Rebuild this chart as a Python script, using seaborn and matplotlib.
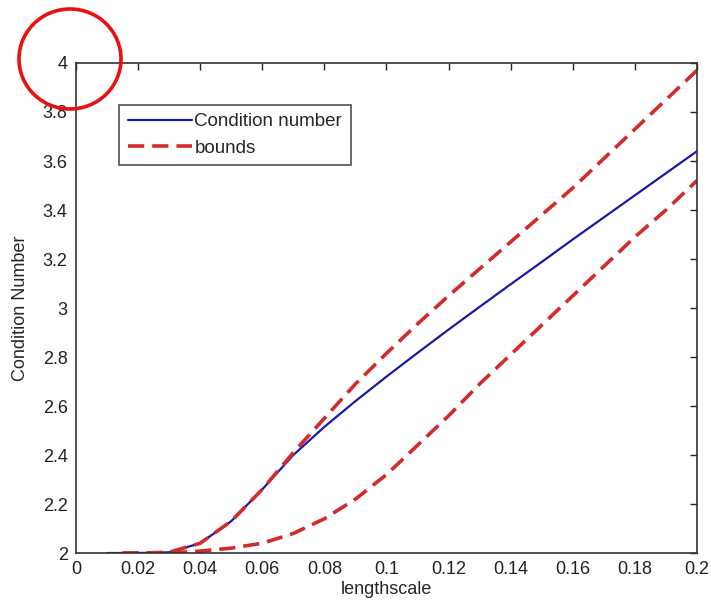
import matplotlib
matplotlib.use("Agg")
import matplotlib.pyplot as plt
from matplotlib.patches import Ellipse
import seaborn as sb
import pandas as pd

# values
x = [0.01, 0.02, 0.03, 0.04, 0.05, 0.06, 0.07, 0.08, 0.09, 0.10,
     0.11, 0.12, 0.13, 0.14, 0.15, 0.16, 0.17, 0.18, 0.19, 0.20]
cond = [2.0, 2.0, 2.003, 2.04, 2.13, 2.26, 2.40, 2.515, 2.62, 2.72,
        2.817, 2.912, 3.005, 3.097, 3.188, 3.28, 3.37, 3.46, 3.55, 3.64]
xb = [0.015, 0.02, 0.03, 0.04, 0.05, 0.06, 0.07, 0.08, 0.09, 0.10,
      0.11, 0.12, 0.13, 0.14, 0.15, 0.16, 0.17, 0.18, 0.19, 0.20]
upper = [2.0, 2.0, 2.003, 2.04, 2.13, 2.26, 2.41, 2.55, 2.69, 2.815,
         2.935, 3.05, 3.16, 3.27, 3.38, 3.49, 3.61, 3.73, 3.85, 3.97]
lower = [2.0, 2.0, 2.0, 2.008, 2.02, 2.04, 2.08, 2.14, 2.22, 2.32,
         2.44, 2.56, 2.69, 2.81, 2.93, 3.05, 3.17, 3.29, 3.40, 3.52]
xticks = [0, 0.02, 0.04, 0.06, 0.08, 0.1, 0.12, 0.14, 0.16, 0.18, 0.2]
xticklabels = ["0", "0.02", "0.04", "0.06", "0.08", "0.1", "0.12", "0.14", "0.16", "0.18", "0.2"]
yticks = [2, 2.2, 2.4, 2.6, 2.8, 3, 3.2, 3.4, 3.6, 3.8, 4]
yticklabels = ["2", "2.2", "2.4", "2.6", "2.8", "3", "3.2", "3.4", "3.6", "3.8", "4"]

sb.set_style("white")
plt.rcParams['font.family'] = ['Liberation Sans', 'DejaVu Sans']

df_c = pd.DataFrame({"x": x, "y": cond})
df_u = pd.DataFrame({"x": xb, "y": upper})
df_l = pd.DataFrame({"x": xb, "y": lower})

fig = plt.figure(figsize=(7.11, 6.04), dpi=100)
ax = fig.add_axes([0.1069, 0.0844, 0.8734, 0.8113])

red = "#d42a2a"
sb.lineplot(data=df_c, x="x", y="y", ax=ax, color="#1a1aa8", lw=1.6, label="Condition number")
sb.lineplot(data=df_u, x="x", y="y", ax=ax, color=red, lw=2.6, dashes=(4.5, 2.2), label="bounds")
sb.lineplot(data=df_l, x="x", y="y", ax=ax, color=red, lw=2.6, dashes=(4.5, 2.2))

ax.set_xlim(0, 0.2)
ax.set_ylim(2, 4)
ax.set_xticks(xticks)
ax.set_xticklabels(xticklabels)
ax.set_yticks(yticks)
ax.set_yticklabels(yticklabels)
ax.tick_params(direction="in", length=5, width=1, top=True, right=True,
               labelsize=13, colors="#222222", pad=6)
for s in ax.spines.values():
    s.set_visible(True)
    s.set_color("#333333")
    s.set_linewidth(1.2)
ax.set_xlabel("lengthscale", fontsize=13, labelpad=2)
ax.set_ylabel("Condition Number", fontsize=13, labelpad=10)

leg = ax.legend(loc="upper left", bbox_to_anchor=(0.07, 0.915), fontsize=13.5,
                frameon=True, fancybox=False, handlelength=3.4, handletextpad=0.15,
                borderpad=0.45, labelspacing=0.5, borderaxespad=0)
leg.get_frame().set_edgecolor("#222222")
leg.get_frame().set_linewidth(1.2)

# red circle annotation around the top y tick
fig.patches.append(Ellipse((70 / 711, 1 - 59 / 604), 102 / 711, 100 / 604,
                           transform=fig.transFigure, fill=False,
                           edgecolor="#e81010", lw=2.6, zorder=10))

fig.savefig("out.png", dpi=100)
